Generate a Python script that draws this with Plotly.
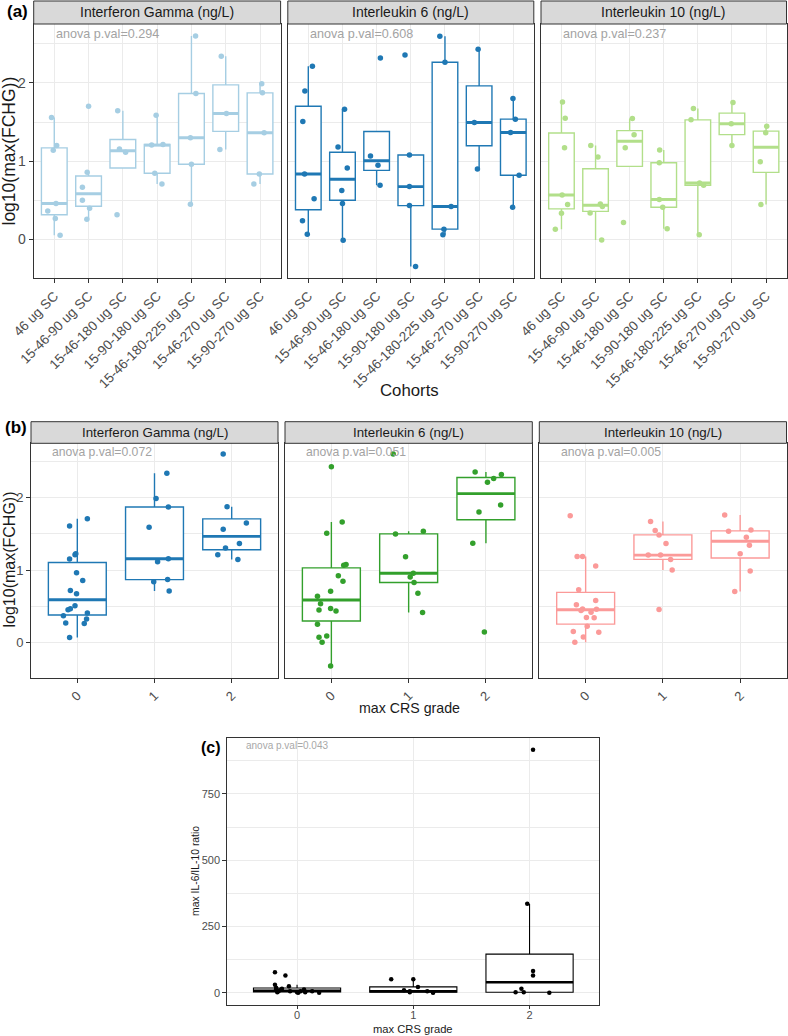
import numpy as np
import plotly.graph_objects as go

W, H = 788, 1036

# ---------------- data ----------------
cohorts = ["46 ug SC", "15-46-90 ug SC", "15-46-180 ug SC", "15-90-180 ug SC",
           "15-46-180-225 ug SC", "15-46-270 ug SC", "15-90-270 ug SC"]
crs_grades = ["0", "1", "2"]
cytokines = ["Interferon Gamma (ng/L)", "Interleukin 6 (ng/L)", "Interleukin 10 (ng/L)"]

# panel (a): log10(max(FCHG)) by cohort
ifng_by_cohort = [
    [1.558, 1.20, 1.14, 0.457, 0.363, 0.265, 0.053],
    [1.703, 0.857, 0.665, 0.50, 0.398, 0.257],
    [1.643, 1.154, 1.112, 0.313],
    [1.588, 1.205, 1.213, 0.844, 0.708],
    [2.60, 1.865, 1.30, 0.96, 0.449],
    [2.34, 1.61, 1.15],
    [1.99, 1.873, 1.363, 0.835, 0.708],
]
ifng_by_cohort_jitter = [
    [-0.08, 0.07, -0.03, 0.05, -0.19, 0.03, 0.17],
    [0.0, -0.04, -0.18, -0.18, 0.03, -0.05],
    [-0.15, -0.10, 0.08, -0.17],
    [-0.03, -0.16, 0.17, -0.07, 0.14],
    [0.12, 0.13, -0.03, 0.0, -0.03],
    [-0.13, 0.02, -0.17],
    [0.05, 0.07, 0.12, -0.02, -0.18],
]
il6_by_cohort = [
    [2.213, 1.897, 1.506, 0.835, 0.519, 0.236, 0.066],
    [1.665, 1.180, 0.912, 0.623, 0.459, -0.013],
    [2.319, 1.065, 0.946, 0.69],
    [2.357, 1.078, 0.674, 0.431, -0.347],
    [2.596, 2.264, 0.419, 0.13, 0.058],
    [2.43, 1.495, 0.90],
    [1.80, 1.537, 1.367, 0.82, 0.41],
]
il6_by_cohort_jitter = [
    [0.12, -0.10, -0.16, -0.11, 0.17, -0.17, -0.03],
    [0.06, -0.13, 0.14, -0.02, 0.0, 0.02],
    [0.11, -0.18, 0.04, 0.10],
    [-0.17, -0.04, -0.04, -0.04, 0.14],
    [-0.15, 0.0, 0.18, -0.03, -0.06],
    [-0.03, -0.14, -0.05],
    [-0.01, 0.06, -0.08, 0.17, -0.02],
]
il10_by_cohort = [
    [1.755, 1.55, 1.171, 0.567, 0.444, 0.334, 0.13],
    [1.20, 1.052, 0.451, 0.419, 0.336, -0.008],
    [1.546, 1.338, 1.171, 0.216],
    [1.142, 0.98, 0.508, 0.41, 0.134],
    [1.673, 1.528, 0.721, 0.691, 0.057],
    [1.749, 1.478, 1.201],
    [1.446, 1.363, 0.993, 0.444],
]
il10_by_cohort_jitter = [
    [0.03, 0.11, 0.09, 0.02, 0.18, 0.0, -0.18],
    [-0.14, 0.07, 0.14, 0.20, -0.16, 0.18],
    [0.08, 0.13, -0.13, -0.18],
    [-0.12, -0.13, -0.13, -0.03, 0.10],
    [-0.13, -0.20, 0.05, 0.17, 0.04],
    [0.03, -0.02, 0.0],
    [0.02, -0.01, -0.17, -0.15],
]

# panel (b): log10(max(FCHG)) by max CRS grade
ifng_by_grade = [
    [1.711, 1.61, 1.225, 1.21, 1.151, 0.963, 0.853, 0.716, 0.67, 0.505, 0.463, 0.45,
     0.404, 0.367, 0.321, 0.266, 0.261, 0.064],
    [2.339, 1.99, 1.872, 1.592, 1.115, 1.156, 0.839, 0.867, 0.711],
    [2.606, 1.876, 1.651, 1.564, 1.367, 1.303, 1.211, 1.147],
]
ifng_by_grade_jitter = [
    [0.13, -0.10, -0.02, -0.03, -0.10, -0.01, 0.07, -0.09, -0.01, -0.03, -0.09, -0.12,
     0.13, -0.18, 0.12, -0.15, 0.09, -0.10],
    [0.16, 0.02, 0.18, -0.07, 0.04, 0.18, -0.01, 0.17, 0.19],
    [-0.11, -0.06, 0.19, -0.11, 0.10, -0.08, -0.18, 0.08],
]
il6_by_grade = [
    [2.431, 1.665, 1.509, 1.075, 1.065, 0.922, 0.844, 0.706, 0.638, 0.532, 0.468, 0.445,
     0.431, 0.248, 0.087, 0.069, 0.0, -0.33],
    [2.605, 1.537, 1.50, 1.183, 0.954, 0.904, 0.826, 0.679, 0.413],
    [2.358, 2.321, 2.266, 2.216, 1.899, 1.803, 1.372, 0.142],
]
il6_by_grade_jitter = [
    [0.0, 0.14, -0.06, 0.19, 0.16, 0.09, 0.15, -0.01, -0.18, -0.14, -0.01, -0.16,
     0.06, -0.18, -0.06, -0.16, -0.12, -0.01],
    [-0.20, 0.19, -0.17, -0.04, 0.06, 0.02, 0.07, 0.12, 0.18],
    [-0.14, 0.20, 0.10, 0.02, 0.19, -0.09, -0.17, -0.02],
]
il10_by_grade = [
    [1.752, 1.188, 1.188, 1.055, 0.727, 0.578, 0.52, 0.461, 0.458, 0.44, 0.415, 0.342,
     0.339, 0.222, 0.147, 0.138, 0.073, 0.0],
    [1.67, 1.546, 1.486, 1.367, 1.206, 1.206, 1.147, 1.0, 0.454],
    [1.761, 1.555, 1.537, 1.454, 1.344, 1.225, 0.986, 0.702],
]
il10_by_grade_jitter = [
    [-0.20, -0.11, -0.04, 0.13, -0.09, 0.13, -0.12, -0.04, 0.14, -0.06, 0.07, 0.01,
     0.11, 0.02, -0.16, 0.17, -0.03, -0.14],
    [-0.16, -0.10, -0.05, 0.04, -0.19, -0.03, 0.10, 0.12, -0.05],
    [-0.20, 0.14, -0.15, 0.08, 0.12, 0.0, 0.13, -0.07],
]

# panel (c): max IL-6/IL-10 ratio by max CRS grade
ratio_by_grade = [
    [77.5, 65, 31, 25, 19, 15, 12.5, 10, 6, 6, 2.5, 2.5, 6, 12.5, 2.5, 6, 0, 0],
    [51, 51, 22.5, 10, 6, 2.5, 6, 2.5, 0],
    [916, 336, 82.5, 65, 15, 2.5, 2.5, 0],
]
ratio_by_grade_jitter = [
    [-0.19, -0.10, -0.19, -0.07, -0.18, -0.13, -0.18, -0.15, -0.06, -0.16, -0.17, 0.0,
     0.03, 0.06, 0.07, 0.13, 0.19, 0.01],
    [-0.19, 0.0, 0.04, -0.08, -0.03, -0.03, 0.12, 0.17, 0.17],
    [0.03, -0.02, 0.03, 0.03, -0.07, -0.05, -0.12, 0.17],
]

anova_a = ["0.294", "0.608", "0.237"]
anova_b = ["0.072", "0.051", "0.005"]
anova_c = "0.043"

# ---------------- helpers ----------------
def px_x(v):
    return v / W


def px_y(v):
    return 1 - v / H


def box_stats(vals):
    v = np.sort(np.asarray(vals, dtype=float))
    q1, med, q3 = np.percentile(v, [25, 50, 75])
    iqr = q3 - q1
    lo = v[v >= q1 - 1.5 * iqr].min()
    hi = v[v <= q3 + 1.5 * iqr].max()
    return q1, med, q3, min(lo, q1), max(hi, q3)


fig = go.Figure()


def add_panel(idx, groups, jitters, color, lw, msize):
    xa = "x" if idx == 1 else f"x{idx}"
    ya = "y" if idx == 1 else f"y{idx}"
    pos = list(range(1, len(groups) + 1))
    st = [box_stats(g) for g in groups]
    fig.add_trace(go.Box(
        x=pos, q1=[s[0] for s in st], median=[s[1] for s in st], q3=[s[2] for s in st],
        lowerfence=[s[3] for s in st], upperfence=[s[4] for s in st],
        orientation="v", width=0.75, whiskerwidth=0, boxpoints=False,
        fillcolor="white", line=dict(color=color, width=lw),
        xaxis=xa, yaxis=ya, showlegend=False, hoverinfo="skip"))
    mx, my = [], []
    for p, s in zip(pos, st):
        mx += [p - 0.375, p + 0.375, None]
        my += [s[1], s[1], None]
    fig.add_trace(go.Scatter(x=mx, y=my, mode="lines",
                             line=dict(color=color, width=lw * 2.1),
                             xaxis=xa, yaxis=ya, showlegend=False, hoverinfo="skip"))
    ptx, pty = [], []
    for p, g, jj in zip(pos, groups, jitters):
        for v, j in zip(g, jj):
            ptx.append(p + j)
            pty.append(v)
    fig.add_trace(go.Scatter(x=ptx, y=pty, mode="markers",
                             marker=dict(color=color, size=msize, line=dict(width=0)),
                             xaxis=xa, yaxis=ya, showlegend=False, hoverinfo="skip"))


colors_a = ["#A6CEE3", "#1F78B4", "#B2DF8A"]
colors_b = ["#1F78B4", "#33A02C", "#FB9A99"]
data_a = [(ifng_by_cohort, ifng_by_cohort_jitter), (il6_by_cohort, il6_by_cohort_jitter),
          (il10_by_cohort, il10_by_cohort_jitter)]
data_b = [(ifng_by_grade, ifng_by_grade_jitter), (il6_by_grade, il6_by_grade_jitter),
          (il10_by_grade, il10_by_grade_jitter)]

for k in range(3):
    add_panel(k + 1, data_a[k][0], data_a[k][1], colors_a[k], 1.4, 5.5)
for k in range(3):
    add_panel(k + 4, data_b[k][0], data_b[k][1], colors_b[k], 1.4, 5.5)
add_panel(7, ratio_by_grade, ratio_by_grade_jitter, "#000000", 1.1, 4.5)

# ---------------- layout ----------------
FONT = "Liberation Sans, Arial, Helvetica, sans-serif"
GRID = "#EBEBEB"
BORDER = "#333333"
TICKC = "#4D4D4D"

a_x = [(33.7, 280.6), (287.8, 533.8), (541.0, 786.5)]
a_y = (24.0, 278.0)
b_x = [(31.0, 278.0), (285.0, 532.3), (539.3, 786.5)]
b_y = (443.3, 678.0)
c_x = (227.3, 599.3)
c_y = (737.7, 1005.0)

yr_ab = [-0.495, 2.754]
layout = dict(width=W, height=H, margin=dict(l=0, r=0, t=0, b=0, pad=0, autoexpand=False),
              paper_bgcolor="white", plot_bgcolor="white",
              font=dict(family=FONT, color="#1A1A1A"), showlegend=False)


def axis_pair(idx, xd, yd, xrange, tickvals, ticktext, tickangle, xfs,
              yrange, ytickvals, yminor, show_y, yfs, xstandoff=0, xticklen=4):
    xk = "xaxis" if idx == 1 else f"xaxis{idx}"
    yk = "yaxis" if idx == 1 else f"yaxis{idx}"
    ya = "y" if idx == 1 else f"y{idx}"
    xa = "x" if idx == 1 else f"x{idx}"
    layout[xk] = dict(domain=[px_x(xd[0]), px_x(xd[1])], range=xrange, anchor=ya,
                      tickvals=tickvals, ticktext=ticktext, tickangle=tickangle,
                      tickfont=dict(size=xfs, color=TICKC, family=FONT),
                      showgrid=True, gridcolor=GRID, gridwidth=1, zeroline=False,
                      showline=True, mirror=True, linecolor=BORDER, linewidth=1,
                      ticks="outside", ticklen=xticklen, tickcolor=BORDER, tickwidth=1,
                      ticklabelstandoff=xstandoff,
                      fixedrange=True, automargin=False)
    layout[yk] = dict(domain=[px_y(yd[1]), px_y(yd[0])], range=yrange, anchor=xa,
                      tickvals=ytickvals, showticklabels=show_y,
                      tickfont=dict(size=yfs, color=TICKC, family=FONT),
                      showgrid=True, gridcolor=GRID, gridwidth=1, zeroline=False,
                      showline=True, mirror=True, linecolor=BORDER, linewidth=1,
                      ticks="outside" if show_y else "", ticklen=4, tickcolor=BORDER,
                      tickwidth=1, fixedrange=True, automargin=False,
                      minor=dict(tickvals=yminor, showgrid=True, gridcolor=GRID,
                                 gridwidth=0.5, ticks=""))


for k in range(3):
    axis_pair(k + 1, a_x[k], a_y, [0.4, 7.6], list(range(1, 8)), cohorts, -45, 13.5,
              yr_ab, [0, 1, 2], [-0.5, 0.5, 1.5, 2.5], k == 0, 14)
for k in range(3):
    axis_pair(k + 4, b_x[k], b_y, [0.4, 3.6], [1, 2, 3], crs_grades, -45, 13,
              yr_ab, [0, 1, 2], [-0.5, 0.5, 1.5, 2.5], k == 0, 13)
axis_pair(7, c_x, c_y, [0.4, 3.6], [1, 2, 3], crs_grades, 0, 11,
          [-45.8, 961.8], [0, 250, 500, 750], [125, 375, 625, 875], True, 11,
          xstandoff=-3, xticklen=3)

shapes = []
annotations = []

# strips
for (x0, x1), label in zip(a_x, cytokines):
    shapes.append(dict(type="rect", xref="paper", yref="paper", x0=px_x(x0), x1=px_x(x1),
                       y0=px_y(a_y[0]), y1=px_y(1.0), fillcolor="#D9D9D9",
                       line=dict(color=BORDER, width=1), layer="above"))
    annotations.append(dict(xref="paper", yref="paper", x=px_x((x0 + x1) / 2),
                            y=px_y((a_y[0] + 1.0) / 2), text=label, showarrow=False,
                            xanchor="center", yanchor="middle",
                            font=dict(size=14, color="#1A1A1A", family=FONT)))
for (x0, x1), label in zip(b_x, cytokines):
    shapes.append(dict(type="rect", xref="paper", yref="paper", x0=px_x(x0), x1=px_x(x1),
                       y0=px_y(b_y[0]), y1=px_y(421.7), fillcolor="#D9D9D9",
                       line=dict(color=BORDER, width=1), layer="above"))
    annotations.append(dict(xref="paper", yref="paper", x=px_x((x0 + x1) / 2),
                            y=px_y((b_y[0] + 421.7) / 2), text=label, showarrow=False,
                            xanchor="center", yanchor="middle",
                            font=dict(size=13.3, color="#1A1A1A", family=FONT)))

# anova labels
for k in range(3):
    xa = "x" if k == 0 else f"x{k + 1}"
    ya = "y" if k == 0 else f"y{k + 1}"
    annotations.append(dict(xref=xa, yref=ya, x=1.0, y=2.62, text="anova p.val=" + anova_a[k],
                            showarrow=False, xanchor="left", yanchor="middle",
                            font=dict(size=12.6, color="#A3A3A3", family=FONT)))
for k in range(3):
    annotations.append(dict(xref=f"x{k + 4}", yref=f"y{k + 4}", x=0.65, y=2.63,
                            text="anova p.val=" + anova_b[k],
                            showarrow=False, xanchor="left", yanchor="middle",
                            font=dict(size=12.2, color="#A3A3A3", family=FONT)))
annotations.append(dict(xref="x7", yref="y7", x=0.54, y=931, text="anova p.val=" + anova_c,
                        showarrow=False, xanchor="left", yanchor="middle",
                        font=dict(size=10, color="#A8A8A8", family=FONT)))

# axis titles
annotations += [
    dict(xref="paper", yref="paper", x=px_x(410), y=px_y(390), text="Cohorts",
         showarrow=False, xanchor="center", yanchor="middle",
         font=dict(size=16.8, color="#1A1A1A", family=FONT)),
    dict(xref="paper", yref="paper", x=px_x(8.5), y=px_y(151), text="log10(max(FCHG))",
         showarrow=False, textangle=-90, xanchor="center", yanchor="middle",
         font=dict(size=17.5, color="#1A1A1A", family=FONT)),
    dict(xref="paper", yref="paper", x=px_x(409), y=px_y(707.5), text="max CRS grade",
         showarrow=False, xanchor="center", yanchor="middle",
         font=dict(size=14.2, color="#1A1A1A", family=FONT)),
    dict(xref="paper", yref="paper", x=px_x(8.5), y=px_y(560), text="log10(max(FCHG))",
         showarrow=False, textangle=-90, xanchor="center", yanchor="middle",
         font=dict(size=16, color="#1A1A1A", family=FONT)),
    dict(xref="paper", yref="paper", x=px_x(413), y=px_y(1029), text="max CRS grade",
         showarrow=False, xanchor="center", yanchor="middle",
         font=dict(size=11.2, color="#1A1A1A", family=FONT)),
    dict(xref="paper", yref="paper", x=px_x(195), y=px_y(871), text="max IL-6/IL-10 ratio",
         showarrow=False, textangle=-90, xanchor="center", yanchor="middle",
         font=dict(size=10.4, color="#1A1A1A", family=FONT)),
    # panel tags
    dict(xref="paper", yref="paper", x=px_x(17), y=px_y(11.5), text="<b>(a)</b>",
         showarrow=False, xanchor="center", yanchor="middle",
         font=dict(size=17, color="#000000", family=FONT)),
    dict(xref="paper", yref="paper", x=px_x(16), y=px_y(427), text="<b>(b)</b>",
         showarrow=False, xanchor="center", yanchor="middle",
         font=dict(size=17, color="#000000", family=FONT)),
    dict(xref="paper", yref="paper", x=px_x(210.5), y=px_y(747.5), text="<b>(c)</b>",
         showarrow=False, xanchor="center", yanchor="middle",
         font=dict(size=16, color="#000000", family=FONT)),
]

layout["shapes"] = shapes
layout["annotations"] = annotations
fig.update_layout(**layout)
fig.write_html("out.html", config={"displayModeBar": False},
               post_script="document.body.style.margin='0px';document.body.style.overflow='hidden';")
